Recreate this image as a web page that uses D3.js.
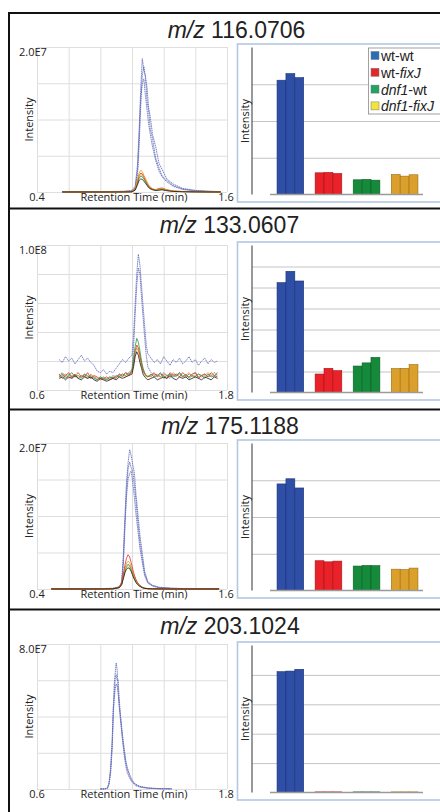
<!DOCTYPE html>
<html lang="en">
<head>
<meta charset="UTF-8"/>
<title>m/z chromatograms</title>
<script src="https://d3js.org/d3.v7.min.js"></script>
<style>
  body { margin: 0; background: #fff; }
  svg text { font-family: "Open Sans", sans-serif; fill: #222; }
</style>
</head>
<body>
<script>
// ---- data ----
var mzLabels = ["116.0706", "133.0607", "175.1188", "203.1024"];
var rtDomains = [[0.4, 1.6], [0.6, 1.8], [0.4, 1.6], [0.6, 1.8]];
var yMaxLabels = ["2.0E7", "1.0E8", "2.0E7", "8.0E7"];
var yMax = [20, 100, 20, 80];          // x 1E6
var yGridCount = [4, 5, 4, 4];
var groups = ["wt-wt", "wt-fixJ", "dnf1-wt", "dnf1-fixJ"];
var barMax = [4, 7, 4, 5];

// bar heights (grid units), three replicates per group
var bars116 = [[3.11, 3.29, 3.18], [0.59, 0.60, 0.57], [0.40, 0.41, 0.39], [0.545, 0.50, 0.537]];
var bars133 = [[5.23, 5.77, 5.31], [0.88, 1.15, 1.04], [1.26, 1.41, 1.67], [1.14, 1.15, 1.33]];
var bars175 = [[2.90, 3.04, 2.79], [0.81, 0.78, 0.80], [0.665, 0.68, 0.675], [0.58, 0.57, 0.61]];
var bars203 = [[4.11, 4.13, 4.19], [0.02, 0.02, 0.02], [0.02, 0.02, 0.02], [0.02, 0.02, 0.02]];

// chromatograms, retention time (min) and intensity (x 1E6)
var rt116 = [0.56,0.65,0.75,0.85,0.95,1.00,1.02,1.035,1.045,1.055,1.065,1.075,1.085,1.095,1.105,1.115,1.13,1.15,1.17,1.19,1.22,1.26,1.32,1.40,1.48,1.56];
var blueA116 = [0.05,0.06,0.05,0.07,0.1,0.2,0.8,3.8,8.5,14.2,18.4,16.8,16.0,12.5,11.2,8.8,7.3,4.6,3.4,2.2,1.6,0.9,0.4,0.18,0.1,0.06];
var blueB116 = [0.05,0.05,0.06,0.05,0.08,0.15,0.5,2.4,6.4,11.8,16.1,17.3,15.8,14.4,11.6,10.4,7.9,6.2,4.0,3.1,1.8,1.1,0.5,0.22,0.1,0.05];
var blueC116 = [0.04,0.05,0.05,0.06,0.07,0.12,0.6,3.1,7.7,12.9,15.0,15.6,13.2,11.3,9.4,8.0,6.2,4.3,2.9,2.1,1.4,0.8,0.35,0.15,0.08,0.05];
var yellow116 = [0,0,0,0,0.01,0.03,0.35,1.3,2.1,2.4,2.3,1.9,1.5,1.1,0.8,0.55,0.38,0.28,0.35,0.4,0.25,0.1,0.05,0.02,0.01,0];
var green116 = [0,0,0,0,0.01,0.03,0.3,1.2,1.9,2.2,2.1,1.8,1.4,1.0,0.7,0.5,0.35,0.25,0.3,0.35,0.2,0.1,0.05,0.02,0.01,0];
var red116 = [0,0,0,0,0.02,0.04,0.4,1.5,2.3,2.6,2.5,2.1,1.6,1.2,0.85,0.6,0.4,0.3,0.5,0.55,0.3,0.12,0.06,0.03,0.01,0];
var orange116 = [0,0,0,0,0.02,0.05,0.5,1.7,2.6,3.0,2.8,2.3,1.9,1.4,1.0,0.7,0.45,0.3,0.45,0.5,0.3,0.15,0.08,0.04,0.02,0];
var black116 = [0,0,0,0,0.01,0.03,0.25,1.0,1.6,1.8,1.75,1.5,1.2,0.9,0.6,0.45,0.3,0.2,0.25,0.3,0.18,0.08,0.04,0.02,0.01,0];

var rt133 = [0.74,0.76,0.78,0.80,0.82,0.84,0.86,0.88,0.90,0.92,0.94,0.96,0.98,1.00,1.02,1.04,1.06,1.08,1.10,1.12,1.14,1.16,1.18,1.20,1.21,1.22,1.23,1.24,1.25,1.26,1.27,1.28,1.29,1.30,1.32,1.34,1.36,1.38,1.40,1.42,1.44,1.46,1.48,1.50,1.52,1.54,1.56,1.58,1.60,1.62,1.64,1.66,1.68,1.70,1.72,1.74];
var blueA133 = [21,19,23,20,22,18,21,24,20,22,19,17,13,12,14,11,13,12,15,18,21,19,22,24,38,60,80,93.6,86,72,58,44,31,25,22,19,21,18,23,20,17,21,19,22,18,20,23,19,21,17,20,22,18,21,19,20];
var blueB133 = [10,12,9,11,8,10,12,9,11,10,8,9,7,8,9,7,8,10,9,11,10,12,11,13,30,52,72,84,80,64,50,36,24,16,12,10,11,9,12,10,8,11,9,12,10,9,11,10,12,9,10,11,9,10,12,10];
var orange133 = [9,10,11,8,10,9,12,9,10,8,11,9,8,9,7,8,9,8,9,10,11,9,11,12,18,25,29,27,22,17,13,11,9,10,9,11,10,9,11,10,9,12,10,11,9,10,12,9,10,11,9,10,12,10,9,11];
var red133 = [11,8,10,12,9,11,8,10,9,12,8,10,9,7,8,9,7,9,8,11,9,12,10,13,19,27,31,29,24,18,14,11,10,9,10,12,9,11,10,8,12,10,11,9,12,10,9,11,12,8,10,11,9,12,10,9];
var green133 = [9,11,8,10,12,9,10,8,11,9,10,8,7,9,8,7,9,8,10,9,11,10,12,14,22,30,35.6,33,27,20,15,12,10,9,11,9,10,12,8,10,11,9,10,12,9,11,8,10,9,11,10,8,11,9,10,12];
var black133 = [8,9,7,9,8,10,8,7,9,8,9,7,6,8,7,6,7,8,7,9,8,9,10,11,16,23,26.4,24,19,15,11,9,8,7,8,9,7,8,9,8,10,8,7,9,8,9,7,8,9,8,7,9,8,7,9,8];

var rt175 = [0.49,0.6,0.7,0.8,0.88,0.92,0.935,0.945,0.955,0.965,0.975,0.985,0.995,1.005,1.015,1.025,1.035,1.05,1.065,1.08,1.1,1.13,1.17,1.25,1.35,1.45,1.55];
var blueA175 = [0.05,0.05,0.06,0.05,0.1,0.3,1.0,4.5,9.8,14.6,17.2,19.1,18.3,17.0,15.9,13.0,10.8,7.4,4.9,2.4,1.0,0.5,0.25,0.1,0.06,0.05,0.05];
var blueB175 = [0.05,0.05,0.05,0.06,0.08,0.2,0.7,3.2,8.1,13.4,16.4,17.4,16.6,16.1,14.2,12.1,9.6,6.5,4.2,2.1,0.9,0.45,0.2,0.1,0.05,0.05,0.05];
var blueC175 = [0.04,0.05,0.05,0.05,0.07,0.25,0.9,3.9,8.9,12.6,15.0,15.8,16.2,14.5,12.6,10.3,8.4,5.6,3.6,1.8,0.8,0.4,0.18,0.08,0.05,0.04,0.04];
var yellow175 = [0,0,0,0,0.02,0.2,0.65,1.5,2.4,2.9,3.2,3.0,2.5,1.9,1.4,0.95,0.65,0.38,0.2,0.09,0.04,0.02,0.01,0,0,0,0];
var green175 = [0,0,0,0,0.02,0.2,0.7,1.6,2.5,3.1,3.4,3.2,2.7,2.1,1.5,1.0,0.7,0.4,0.2,0.1,0.04,0.02,0.01,0,0,0,0];
var orange175 = [0,0,0,0,0.03,0.25,0.8,1.8,2.8,3.5,3.8,3.6,3.0,2.3,1.7,1.2,0.8,0.45,0.22,0.1,0.05,0.02,0.01,0,0,0,0];
var red175 = [0,0,0,0,0.03,0.3,0.9,2.0,3.2,4.2,4.7,4.4,3.6,2.7,1.9,1.3,0.9,0.5,0.25,0.12,0.05,0.02,0.01,0,0,0,0];
var black175 = [0,0,0,0,0.02,0.18,0.6,1.4,2.2,2.7,2.9,2.8,2.4,1.8,1.3,0.9,0.6,0.35,0.18,0.08,0.04,0.02,0.01,0,0,0,0];

var rt203 = [1.0,1.03,1.045,1.055,1.065,1.075,1.082,1.088,1.094,1.1,1.106,1.112,1.118,1.125,1.132,1.14,1.15,1.16,1.17,1.185,1.2,1.22,1.25,1.3,1.37,1.45];
var blueA203 = [0,0.1,0.6,3.5,12,28,45,58,64,69.5,66,56,47,40,34,28,21,15,11,7,4.5,2.5,1.3,0.5,0.2,0.1];
var blueB203 = [0,0.1,0.4,2.5,9,22,40,52,61,63,60,60.3,52,43,35,27,19,13,9,6,3.8,2.0,1.0,0.4,0.15,0.05];
var blueC203 = [0,0.1,0.5,3.0,10,25,44.6,50,55,58,57,53,47,42,37,30,23,16,12,8,5,2.8,1.5,0.6,0.2,0.1];

// ---- styles ----
var traceColor = { blue: "#5e68b8", yellow: "#c9c22a", green: "#2c9a3c", red: "#e0302c", orange: "#e8921e", black: "#222" };
var barFill = ["#2f4ea6", "#e92128", "#158a3b", "#dba02b"];
var barStroke = ["#1c3278", "#a3141a", "#0c5c26", "#9a6d12"];
var legendFill = ["#2a6cb8", "#e3262b", "#22a263", "#f1e43b"];

// ---- layout ----
var w = 440, h = 812;
var sepY = [13, 208.5, 409.5, 609.5];
var titleX = [236.5, 229.5, 230, 230];
var plotTop = [47, 245, 443, 644];
var plotBottom = [192, 390, 589, 789];
var frameTop = [44, 242, 440, 642];
var chromL = 37, chromR = 227;
var axisX = 252;

var panels = [
  { rt: rt116, bars: bars116, traces: [["blue", blueA116], ["blue", blueB116], ["blue", blueC116], ["yellow", yellow116], ["green", green116], ["red", red116], ["orange", orange116], ["black", black116]] },
  { rt: rt133, bars: bars133, traces: [["blue", blueA133], ["blue", blueB133], ["orange", orange133], ["red", red133], ["green", green133], ["black", black133]] },
  { rt: rt175, bars: bars175, traces: [["blue", blueA175], ["blue", blueB175], ["blue", blueC175], ["yellow", yellow175], ["green", green175], ["orange", orange175], ["red", red175], ["black", black175]] },
  { rt: rt203, bars: bars203, traces: [["blue", blueA203], ["blue", blueB203], ["blue", blueC203]] }
];

var svg = d3.select("body").append("svg")
  .attr("width", w)
  .attr("height", h);

panels.forEach(function(p, i) {
  var g = svg.append("g");

  // title
  var t = g.append("text")
    .attr("x", titleX[i])
    .attr("y", sepY[i] + 24.5)
    .attr("text-anchor", "middle")
    .style("font-family", "'Liberation Sans', Arial, sans-serif")
    .style("font-size", "23px");
  t.append("tspan").style("font-style", "italic").text("m/z");
  t.append("tspan").text(" " + mzLabels[i]);

  // ---- chromatogram ----
  var x = d3.scaleLinear().domain(rtDomains[i]).range([chromL, chromR]);
  var y = d3.scaleLinear().domain([0, yMax[i]]).range([plotBottom[i], plotTop[i]]);

  g.append("g")
    .attr("transform", "translate(0," + plotBottom[i] + ")")
    .call(d3.axisBottom(x).ticks(6).tickSize(-(plotBottom[i] - plotTop[i])).tickFormat(""))
    .call(function(a) { a.select(".domain").remove(); a.selectAll("line").attr("stroke", "#dedede"); });

  g.append("g")
    .attr("transform", "translate(" + chromL + ",0)")
    .call(d3.axisLeft(y).ticks(yGridCount[i]).tickSize(-(chromR - chromL)).tickFormat(""))
    .call(function(a) { a.select(".domain").remove(); a.selectAll("line").attr("stroke", "#dedede"); });

  var line = d3.line()
    .x(function(d) { return x(d[0]); })
    .y(function(d) { return y(d[1]); });

  p.traces.forEach(function(tr) {
    var isBlue = tr[0] === "blue";
    g.append("path")
      .datum(d3.zip(p.rt, tr[1]))
      .attr("d", line)
      .attr("fill", "none")
      .attr("stroke", traceColor[tr[0]])
      .attr("stroke-width", isBlue ? 1 : 0.9)
      .attr("stroke-dasharray", isBlue ? "1.6,0.6" : null)
      .attr("stroke-opacity", isBlue ? 0.8 : 0.9);
  });

  g.append("text").attr("x", 19).attr("y", plotTop[i] + 9)
    .style("font-size", "11px").text(yMaxLabels[i]);
  g.append("text").attr("x", chromL).attr("y", plotBottom[i] + 9)
    .attr("text-anchor", "middle").style("font-size", "11px").text(rtDomains[i][0].toFixed(1));
  g.append("text").attr("x", chromR - 1).attr("y", plotBottom[i] + 9)
    .attr("text-anchor", "middle").style("font-size", "11px").text(rtDomains[i][1].toFixed(1));
  g.append("text").attr("x", 134).attr("y", plotBottom[i] + 9)
    .attr("text-anchor", "middle").style("font-size", "11px").text("Retention Time (min)");
  g.append("text")
    .attr("transform", "translate(33," + ((plotTop[i] + plotBottom[i]) / 2) + ") rotate(-90)")
    .attr("text-anchor", "middle").style("font-size", "11px").text("Intensity");

  // ---- bar chart ----
  var fTop = frameTop[i];
  var bTop = fTop + 3.5, bBase = fTop + 150.5;

  g.append("rect")
    .attr("x", 237.5).attr("y", fTop)
    .attr("width", 220).attr("height", 158)
    .attr("fill", "#fff").attr("stroke", "#b4c8e2").attr("stroke-width", 1.6);

  var by = d3.scaleLinear().domain([0, barMax[i]]).range([bBase, bTop]);
  var gx = d3.scaleBand().domain(groups).range([258, 437]).paddingInner(0.3).paddingOuter(0.5);
  var rx = d3.scaleBand().domain([0, 1, 2]).range([0, gx.bandwidth()]);

  g.append("g")
    .attr("transform", "translate(" + axisX + ",0)")
    .call(d3.axisLeft(by).tickValues(d3.range(1, barMax[i])).tickSize(-(w + 10 - axisX)).tickFormat(""))
    .call(function(a) { a.select(".domain").remove(); a.selectAll("line").attr("stroke", "#c4c4c4"); });

  groups.forEach(function(grp, gi) {
    g.selectAll(null)
      .data(p.bars[gi])
      .enter()
      .append("rect")
      .attr("x", function(d, k) { return gx(grp) + rx(k); })
      .attr("y", function(d) { return by(d); })
      .attr("width", rx.bandwidth())
      .attr("height", function(d) { return bBase - by(d); })
      .attr("fill", barFill[gi])
      .attr("stroke", barStroke[gi])
      .attr("stroke-width", 0.6);
  });

  g.append("line")
    .attr("x1", 270).attr("x2", 423).attr("y1", bBase).attr("y2", bBase)
    .attr("stroke", "#9a9a9a").attr("stroke-width", 1.6);
  g.append("line")
    .attr("x1", axisX).attr("x2", axisX).attr("y1", bTop).attr("y2", bBase)
    .attr("stroke", "#555").attr("stroke-width", 1.2);

  g.append("text")
    .attr("transform", "translate(248.5," + ((bTop + bBase) / 2) + ") rotate(-90)")
    .attr("text-anchor", "middle").style("font-size", "11px").text("Intensity");

  // legend only in first panel
  if (i === 0) {
    var lg = g.append("g");
    lg.append("rect").attr("x", 368.5).attr("y", 48).attr("width", 90).attr("height", 66)
      .attr("fill", "#fff").attr("stroke", "#8a8a8a").attr("stroke-width", 0.8);
    var rows = lg.selectAll("g.row").data(groups).enter().append("g")
      .attr("class", "row")
      .attr("transform", function(d, k) { return "translate(0," + (55.5 + k * 16.8) + ")"; });
    rows.append("rect").attr("x", 371).attr("y", -4).attr("width", 8).attr("height", 8)
      .attr("fill", function(d, k) { return legendFill[k]; })
      .attr("stroke", "#777").attr("stroke-width", 0.5);
    var lt = rows.append("text").attr("x", 381).attr("y", 5.5)
      .style("font-family", "'Liberation Sans', Arial, sans-serif")
      .style("font-size", "14px");
    lt.each(function(d) {
      var parts = d.split("-");
      var el = d3.select(this);
      el.append("tspan").style("font-style", parts[0] === "dnf1" ? "italic" : "normal").text(parts[0]);
      el.append("tspan").text("-");
      el.append("tspan").style("font-style", parts[1] === "fixJ" ? "italic" : "normal").text(parts[1]);
    });
  }
});

// outer frame and separators
svg.append("line").attr("x1", 9).attr("x2", 9).attr("y1", 12).attr("y2", h)
  .attr("stroke", "#111").attr("stroke-width", 2);
svg.selectAll("line.sep")
  .data(sepY)
  .enter()
  .append("line")
  .attr("class", "sep")
  .attr("x1", 8).attr("x2", w).attr("y1", function(d) { return d; }).attr("y2", function(d) { return d; })
  .attr("stroke", "#111").attr("stroke-width", 2);
</script>
</body>
</html>
